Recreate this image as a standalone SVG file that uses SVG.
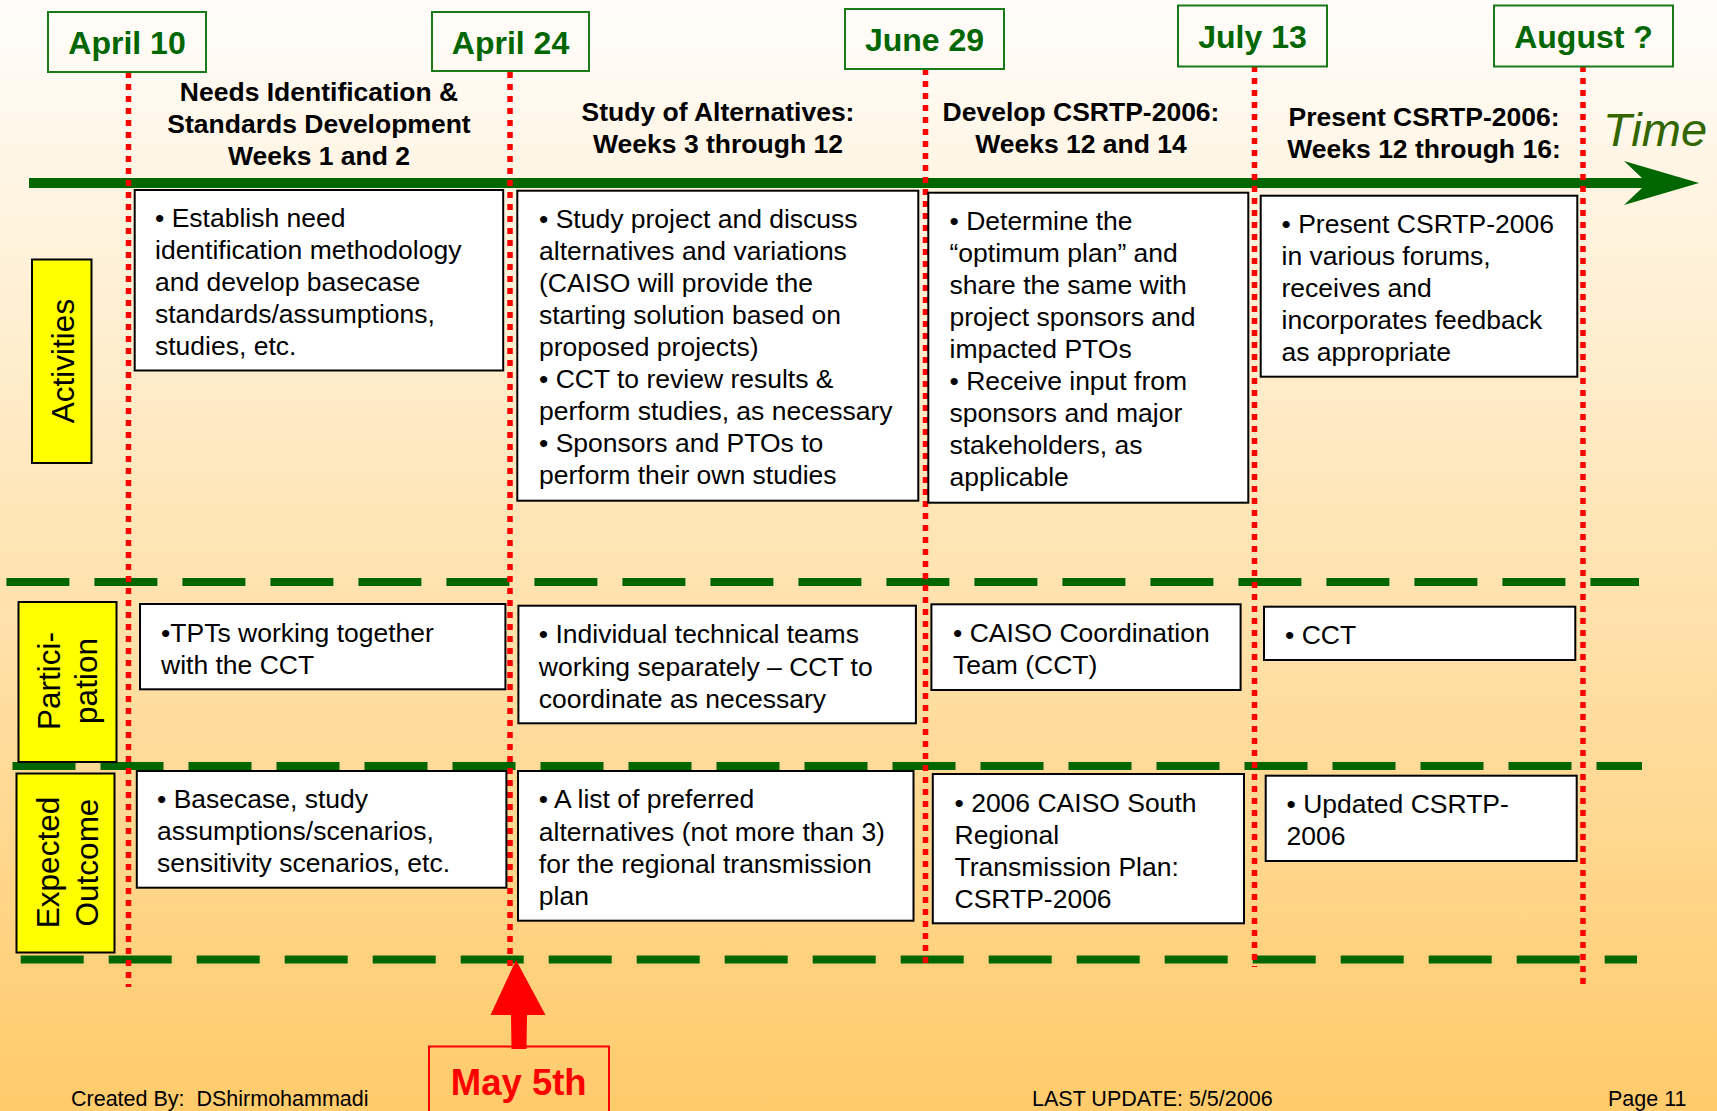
<svg xmlns="http://www.w3.org/2000/svg" width="1717" height="1111" viewBox="0 0 1717 1111">
<defs>
<linearGradient id="bg" x1="0" y1="0" x2="0" y2="1">
<stop offset="0" stop-color="#FFFDFB"/>
<stop offset="1" stop-color="#FFCB6B"/>
</linearGradient>
</defs>
<style>
.date{fill:none;stroke:#1A7A1A;stroke-width:2}
.datet{font-family:"Liberation Sans",Arial,sans-serif;font-weight:bold;font-size:32px;fill:#006600;text-anchor:middle}
.hdr{font-family:"Liberation Sans",Arial,sans-serif;font-weight:bold;font-size:26.5px;fill:#000;text-anchor:middle}
.box{fill:#fff;stroke:#000;stroke-width:2}
.bt{font-family:"Liberation Sans",Arial,sans-serif;font-size:26.5px;fill:#000}
.lbl{fill:#FFFF00;stroke:#000;stroke-width:2}
.lt{font-family:"Liberation Sans",Arial,sans-serif;font-size:31.5px;fill:#000;text-anchor:middle}
.vline{stroke:#FF0000;stroke-width:5.5;stroke-dasharray:6 6;fill:none}
.hdash{stroke:#006600;stroke-width:8;stroke-dasharray:63 25;fill:none}
.foot{font-family:"Liberation Sans",Arial,sans-serif;font-size:21.5px;fill:#000;white-space:pre}
</style>
<rect x="0" y="0" width="1717" height="1111" fill="url(#bg)"/>

<g id="connectors">
<polygon points="29,178 1642,178 1624,161 1699,183 1624,205 1642,188 29,188" fill="#006600"/>
<line class="hdash" x1="6.4" y1="582" x2="1639" y2="582"/>
<line class="hdash" x1="12.5" y1="766" x2="1642" y2="766"/>
<line class="hdash" x1="20.7" y1="959.5" x2="1637" y2="959.5"/>
<line class="vline" x1="128.5" y1="72" x2="128.5" y2="987"/>
<line class="vline" x1="510" y1="72" x2="510" y2="972"/>
<line class="vline" x1="925.5" y1="69" x2="925.5" y2="967"/>
<line class="vline" x1="1254.5" y1="66" x2="1254.5" y2="967"/>
<line class="vline" x1="1583" y1="66" x2="1583" y2="989"/>
<polygon points="516,960 545.5,1015 527,1015 526.5,1049 511.5,1049 511,1015 490.5,1015" fill="#FF0000"/>
</g>

<g id="time">
<text x="1603" y="146" font-family="Liberation Sans, Arial, sans-serif" font-style="italic" font-size="47" fill="#336600">Time</text>
</g>

<g id="date-apr10"><rect class="date" x="48" y="12" width="158" height="60"/><text class="datet" x="127" y="53.5">April 10</text></g>
<g id="date-apr24"><rect class="date" x="432" y="12" width="157" height="59"/><text class="datet" x="510.5" y="53.5">April 24</text></g>
<g id="date-jun29"><rect class="date" x="845" y="9" width="159" height="60"/><text class="datet" x="924.5" y="51">June 29</text></g>
<g id="date-jul13"><rect class="date" x="1178" y="5.5" width="149" height="61"/><text class="datet" x="1252.5" y="47.5">July 13</text></g>
<g id="date-aug"><rect class="date" x="1494" y="5.5" width="179" height="61"/><text class="datet" x="1583.5" y="47.5">August ?</text></g>

<g id="hdr1"><text class="hdr"><tspan x="319" y="101">Needs Identification &amp;</tspan><tspan x="319" y="133">Standards Development</tspan><tspan x="319" y="164.5">Weeks 1 and 2</tspan></text></g>
<g id="hdr2"><text class="hdr"><tspan x="718" y="121">Study of Alternatives:</tspan><tspan x="718" y="153">Weeks 3 through 12</tspan></text></g>
<g id="hdr3"><text class="hdr"><tspan x="1081" y="121">Develop CSRTP-2006:</tspan><tspan x="1081" y="153">Weeks 12 and 14</tspan></text></g>
<g id="hdr4"><text class="hdr"><tspan x="1424" y="126">Present CSRTP-2006:</tspan><tspan x="1424" y="158">Weeks 12 through 16:</tspan></text></g>

<g id="lbl-activities"><rect class="lbl" x="32" y="259.5" width="59.5" height="203.5"/><text class="lt" transform="translate(73.5,361) rotate(-90)">Activities</text></g>
<g id="lbl-participation"><rect class="lbl" x="18.5" y="602" width="98" height="160"/><text class="lt" transform="translate(60,681) rotate(-90)">Partici-</text><text class="lt" transform="translate(97,681) rotate(-90)">pation</text></g>
<g id="lbl-outcome"><rect class="lbl" x="16.5" y="773.5" width="98" height="179"/><text class="lt" transform="translate(58.5,862.5) rotate(-90)">Expected</text><text class="lt" transform="translate(98,862.5) rotate(-90)">Outcome</text></g>

<g id="act1"><rect class="box" x="134.7" y="190" width="368.5" height="180.5"/><text class="bt"><tspan x="155" y="226.5">• Establish need</tspan><tspan x="155" y="258.5">identification methodology</tspan><tspan x="155" y="290.5">and develop basecase</tspan><tspan x="155" y="322.5">standards/assumptions,</tspan><tspan x="155" y="354.5">studies, etc.</tspan></text></g>
<g id="act2"><rect class="box" x="517.3" y="190.7" width="401" height="310"/><text class="bt"><tspan x="539" y="228">• Study project and discuss</tspan><tspan x="539" y="260">alternatives and variations</tspan><tspan x="539" y="292">(CAISO will provide the</tspan><tspan x="539" y="324">starting solution based on</tspan><tspan x="539" y="356">proposed projects)</tspan><tspan x="539" y="388">• CCT to review results &amp;</tspan><tspan x="539" y="420">perform studies, as necessary</tspan><tspan x="539" y="452">• Sponsors and PTOs to</tspan><tspan x="539" y="484">perform their own studies</tspan></text></g>
<g id="act3"><rect class="box" x="928.3" y="192.7" width="320" height="310"/><text class="bt"><tspan x="949.5" y="229.5">• Determine the</tspan><tspan x="949.5" y="261.5">“optimum plan” and</tspan><tspan x="949.5" y="293.5">share the same with</tspan><tspan x="949.5" y="325.5">project sponsors and</tspan><tspan x="949.5" y="357.5">impacted PTOs</tspan><tspan x="949.5" y="389.5">• Receive input from</tspan><tspan x="949.5" y="421.5">sponsors and major</tspan><tspan x="949.5" y="453.5">stakeholders, as</tspan><tspan x="949.5" y="485.5">applicable</tspan></text></g>
<g id="act4"><rect class="box" x="1260.7" y="195.7" width="316.6" height="181"/><text class="bt"><tspan x="1281.5" y="232.5">• Present CSRTP-2006</tspan><tspan x="1281.5" y="264.5">in various forums,</tspan><tspan x="1281.5" y="296.5">receives and</tspan><tspan x="1281.5" y="328.5">incorporates feedback</tspan><tspan x="1281.5" y="360.5">as appropriate</tspan></text></g>

<g id="par1"><rect class="box" x="140" y="604" width="365.4" height="85.3"/><text class="bt"><tspan x="161" y="641.5">•TPTs working together</tspan><tspan x="161" y="673.5">with the CCT</tspan></text></g>
<g id="par2"><rect class="box" x="518.4" y="605.7" width="397.5" height="117.6"/><text class="bt"><tspan x="538.8" y="643">• Individual technical teams</tspan><tspan x="538.8" y="675.5">working separately – CCT to</tspan><tspan x="538.8" y="708">coordinate as necessary</tspan></text></g>
<g id="par3"><rect class="box" x="931.4" y="604.3" width="309.2" height="85.7"/><text class="bt"><tspan x="953" y="641.5">• CAISO Coordination</tspan><tspan x="953" y="673.5">Team (CCT)</tspan></text></g>
<g id="par4"><rect class="box" x="1264" y="606.7" width="311.3" height="53.3"/><text class="bt"><tspan x="1285" y="643.5">• CCT</tspan></text></g>

<g id="out1"><rect class="box" x="136.8" y="771" width="369.6" height="116.7"/><text class="bt"><tspan x="157" y="808">• Basecase, study</tspan><tspan x="157" y="840">assumptions/scenarios,</tspan><tspan x="157" y="872">sensitivity scenarios, etc.</tspan></text></g>
<g id="out2"><rect class="box" x="518" y="771" width="395.5" height="149.7"/><text class="bt"><tspan x="538.8" y="808">• A list of preferred</tspan><tspan x="538.8" y="840.5">alternatives (not more than 3)</tspan><tspan x="538.8" y="872.5">for the regional transmission</tspan><tspan x="538.8" y="904.5">plan</tspan></text></g>
<g id="out3"><rect class="box" x="932.8" y="774" width="311.2" height="149.3"/><text class="bt"><tspan x="954.5" y="811.5">• 2006 CAISO South</tspan><tspan x="954.5" y="843.5">Regional</tspan><tspan x="954.5" y="875.5">Transmission Plan:</tspan><tspan x="954.5" y="907.5">CSRTP-2006</tspan></text></g>
<g id="out4"><rect class="box" x="1265.7" y="775.7" width="311" height="85.3"/><text class="bt"><tspan x="1286.5" y="813">• Updated CSRTP-</tspan><tspan x="1286.5" y="845">2006</tspan></text></g>

<g id="may5"><rect x="429" y="1046.5" width="180" height="75" fill="none" stroke="#FF0000" stroke-width="2"/><text x="518.7" y="1095" font-family="Liberation Sans, Arial, sans-serif" font-weight="bold" font-size="36.5" fill="#FF0000" text-anchor="middle">May 5th</text></g>

<g id="footer">
<text class="foot" x="71" y="1105.5" xml:space="preserve">Created By:  DShirmohammadi</text>
<text class="foot" x="1032" y="1105.5">LAST UPDATE: 5/5/2006</text>
<text class="foot" x="1608" y="1105.5">Page 11</text>
</g>
</svg>
